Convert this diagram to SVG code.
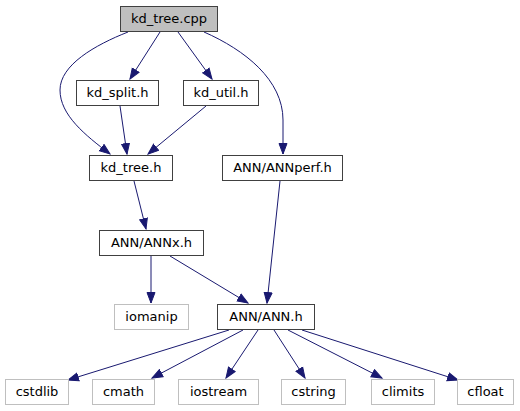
<svg xmlns="http://www.w3.org/2000/svg" width="520" height="411" viewBox="0 0 520 411">
<style>
.n rect{fill:#ffffff;stroke:#404040;stroke-width:1}
.g rect{fill:#ffffff;stroke:#bfbfbf;stroke-width:1}
.root rect{fill:#bfbfbf;stroke:#404040;stroke-width:1}
text{font-family:"DejaVu Sans",sans-serif;font-size:13px;fill:#000000;text-anchor:middle}
.e path{fill:none;stroke:#191970;stroke-width:1;marker-end:url(#ah)}
</style>
<defs>
<marker id="ah" markerUnits="userSpaceOnUse" markerWidth="13" markerHeight="10" refX="11" refY="4.5" orient="auto" viewBox="0 0 13 9">
<path d="M0.5,0.5 L11,4.5 L0.5,8.5 z" fill="#191970" stroke="#191970" stroke-width="1"/>
</marker>
</defs>
<rect width="520" height="411" fill="#ffffff"/>
<g class="e" id="edges">
<path d="M160,32 L130,79"/>
<path d="M178,32 L212,79"/>
<path d="M128,32 C95,45 60,65 60,90 C60,115 85,135 110,154"/>
<path d="M204,32 C245,50 283,80 283,120 L283,154"/>
<path d="M120,106 L127,154"/>
<path d="M206,106 L148,154"/>
<path d="M134,181 L146,229"/>
<path d="M280,181 L267,303"/>
<path d="M151,256 L151,303"/>
<path d="M170,256 L248,303"/>
<path d="M229,330 L68,380"/>
<path d="M243,330 L152,378"/>
<path d="M258,330 L226,378"/>
<path d="M274,330 L305,378"/>
<path d="M288,330 L382,378"/>
<path d="M302,330 L458,380"/>
</g>
<g id="kd_tree_cpp" class="root"><rect x="120.5" y="6.5" width="97" height="25"/><text x="169" y="23">kd_tree.cpp</text></g>
<g id="kd_split_h" class="n"><rect x="76.5" y="80.5" width="82" height="25"/><text x="117.5" y="97">kd_split.h</text></g>
<g id="kd_util_h" class="n"><rect x="183.5" y="80.5" width="75" height="25"/><text x="221" y="97">kd_util.h</text></g>
<g id="kd_tree_h" class="n"><rect x="89.5" y="155.5" width="83" height="25"/><text x="131" y="172">kd_tree.h</text></g>
<g id="ANNperf_h" class="n"><rect x="222.5" y="155.5" width="120" height="25"/><text x="282.5" y="172">ANN/ANNperf.h</text></g>
<g id="ANNx_h" class="n"><rect x="99.5" y="230.5" width="104" height="25"/><text x="151.5" y="247">ANN/ANNx.h</text></g>
<g id="iomanip" class="g"><rect x="114.5" y="304.5" width="74" height="25"/><text x="151.5" y="321">iomanip</text></g>
<g id="ANN_h" class="n"><rect x="217.5" y="304.5" width="97" height="25"/><text x="266" y="321">ANN/ANN.h</text></g>
<g id="cstdlib" class="g"><rect x="5.5" y="379.5" width="63" height="25"/><text x="37" y="396">cstdlib</text></g>
<g id="cmath" class="g"><rect x="92.5" y="379.5" width="62" height="25"/><text x="123.5" y="396">cmath</text></g>
<g id="iostream" class="g"><rect x="178.5" y="379.5" width="80" height="25"/><text x="218.5" y="396">iostream</text></g>
<g id="cstring" class="g"><rect x="281.5" y="379.5" width="64" height="25"/><text x="313.5" y="396">cstring</text></g>
<g id="climits" class="g"><rect x="371.5" y="379.5" width="63" height="25"/><text x="403" y="396">climits</text></g>
<g id="cfloat" class="g"><rect x="457.5" y="379.5" width="56" height="25"/><text x="485.5" y="396">cfloat</text></g>
</svg>
